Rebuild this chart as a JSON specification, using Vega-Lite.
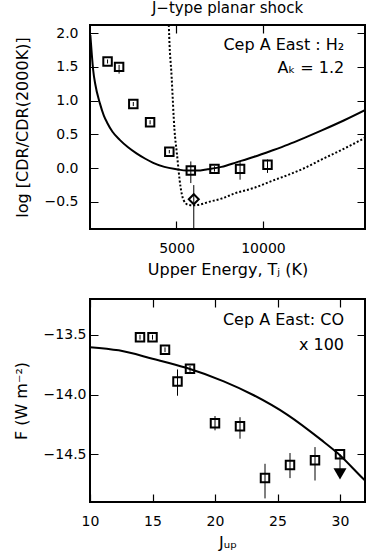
{
  "$schema": "https://vega.github.io/schema/vega-lite/v6.json",
  "padding": {"left": 12, "top": 0, "right": 0, "bottom": 0},
  "spacing": 20,
  "config": {
    "font": "DejaVu Sans",
    "view": {"stroke": "black", "strokeWidth": 2},
    "axis": {"domain": false, "ticks": false, "grid": true, "gridColor": "black", "gridOpacity": 1, "gridWidth": 1.2, "zindex": 1, "labelFont": "DejaVu Sans", "labelFontSize": 14, "labelColor": "black", "titleFont": "DejaVu Sans", "titleFontSize": 16, "titleFontWeight": "normal", "titleColor": "black", "labelFlush": false, "labelOverlap": false, "labelBound": false},
    "title": {"font": "DejaVu Sans", "fontWeight": "normal", "color": "black"}
  },
  "datasets": {
    "h2": [
      {"T": 1015, "v": 1.58, "lo": 1.55, "hi": 1.61},
      {"T": 1682, "v": 1.50, "lo": 1.40, "hi": 1.53},
      {"T": 2504, "v": 0.95, "lo": 0.92, "hi": 0.98},
      {"T": 3474, "v": 0.68, "lo": 0.65, "hi": 0.71},
      {"T": 4586, "v": 0.245, "lo": 0.22, "hi": 0.27},
      {"T": 5829, "v": -0.035, "lo": -0.22, "hi": 0.10},
      {"T": 7197, "v": -0.01, "lo": -0.05, "hi": 0.03},
      {"T": 8677, "v": -0.01, "lo": -0.17, "hi": 0.09},
      {"T": 10263, "v": 0.05, "lo": -0.07, "hi": 0.13}
    ],
    "diam": [{"T": 6000, "v": -0.46, "lo": -0.95, "hi": -0.25}],
    "solid": [
      {"T": 20, "v": 1.97}, {"T": 100, "v": 1.70}, {"T": 185, "v": 1.45}, {"T": 300, "v": 1.25},
      {"T": 572, "v": 0.96}, {"T": 800, "v": 0.78}, {"T": 1000, "v": 0.67}, {"T": 1300, "v": 0.54},
      {"T": 1720, "v": 0.42}, {"T": 2200, "v": 0.31}, {"T": 2688, "v": 0.22}, {"T": 3200, "v": 0.14},
      {"T": 3653, "v": 0.08}, {"T": 4300, "v": 0.02}, {"T": 5000, "v": -0.015}, {"T": 5600, "v": -0.035},
      {"T": 6200, "v": -0.035}, {"T": 6800, "v": -0.015}, {"T": 7600, "v": 0.02}, {"T": 8500, "v": 0.09},
      {"T": 9500, "v": 0.17}, {"T": 10500, "v": 0.26}, {"T": 11450, "v": 0.35}, {"T": 12400, "v": 0.45},
      {"T": 13400, "v": 0.56}, {"T": 14700, "v": 0.71}, {"T": 15900, "v": 0.86}
    ],
    "dotted": [
      {"T": 4540, "v": 2.3}, {"T": 4561, "v": 2.1}, {"T": 4720, "v": 1.35}, {"T": 4884, "v": 0.57},
      {"T": 5023, "v": 0.22}, {"T": 5231, "v": -0.27}, {"T": 5405, "v": -0.47}, {"T": 5659, "v": -0.54},
      {"T": 6000, "v": -0.55}, {"T": 7000, "v": -0.49}, {"T": 7600, "v": -0.45}, {"T": 8400, "v": -0.37},
      {"T": 9500, "v": -0.29}, {"T": 10500, "v": -0.19}, {"T": 11450, "v": -0.10}, {"T": 12300, "v": -0.01},
      {"T": 13400, "v": 0.13}, {"T": 14700, "v": 0.29}, {"T": 15900, "v": 0.45}
    ],
    "lab1": [
      {"T": 14700, "v": 1.83, "t": "Cep A East : H₂"},
      {"T": 14700, "v": 1.48, "t": "Aₖ = 1.2"}
    ],
    "co": [
      {"J": 14, "F": -13.52, "lo": -13.54, "hi": -13.50},
      {"J": 15, "F": -13.52, "lo": -13.54, "hi": -13.50},
      {"J": 16, "F": -13.625, "lo": -13.645, "hi": -13.605},
      {"J": 17, "F": -13.89, "lo": -14.01, "hi": -13.79},
      {"J": 18, "F": -13.785, "lo": -13.81, "hi": -13.76},
      {"J": 20, "F": -14.24, "lo": -14.30, "hi": -14.18},
      {"J": 22, "F": -14.265, "lo": -14.37, "hi": -14.19},
      {"J": 24, "F": -14.70, "lo": -14.87, "hi": -14.58},
      {"J": 26, "F": -14.59, "lo": -14.70, "hi": -14.49},
      {"J": 28, "F": -14.55, "lo": -14.72, "hi": -14.44},
      {"J": 30, "F": -14.50, "lo": -14.63, "hi": -14.50}
    ],
    "colim": [{"J": 30, "F": -14.665}],
    "cofit": [
      {"J": 10, "F": -13.603}, {"J": 12.3, "F": -13.63}, {"J": 15, "F": -13.70}, {"J": 17.7, "F": -13.776},
      {"J": 20.7, "F": -13.89}, {"J": 23.1, "F": -14.006}, {"J": 25.8, "F": -14.17}, {"J": 28.5, "F": -14.38},
      {"J": 29.8, "F": -14.49}, {"J": 31.9, "F": -14.71}, {"J": 32, "F": -14.72}
    ],
    "lab2": [
      {"J": 30.32, "F": -13.379, "t": "Cep A East: CO"},
      {"J": 30.32, "F": -13.582, "t": "x 100"}
    ]
  },
  "vconcat": [
    {
      "width": 275,
      "height": 204,
      "title": {"text": "J−type planar shock", "fontSize": 15, "frame": "group", "anchor": "middle", "offset": 9},
      "layer": [
        {
          "data": {"name": "solid"},
          "mark": {"type": "line", "color": "black", "strokeWidth": 2, "clip": true, "interpolate": "monotone"},
          "encoding": {
            "x": {"field": "T", "type": "quantitative", "scale": {"domain": [0, 15900], "nice": false, "zero": false},
                  "axis": {"orient": "bottom", "values": [5000, 10000], "format": "d", "grid": true, "gridDash": [8, 188, 8, 1000],
                           "labelPadding": 12, "title": "Upper Energy, Tⱼ (K)", "titlePadding": 6}},
            "y": {"field": "v", "type": "quantitative", "scale": {"domain": [-0.9, 2.12], "nice": false, "zero": false},
                  "axis": {"orient": "left", "values": [-0.5, 0, 0.5, 1, 1.5, 2], "format": ".1f", "grid": true, "gridDash": [8, 259, 8, 1000],
                           "labelPadding": 12, "title": "log [CDR/CDR(2000K)]", "titlePadding": 14}}
          }
        },
        {
          "data": {"name": "dotted"},
          "mark": {"type": "line", "color": "black", "strokeWidth": 2, "strokeDash": [2, 2], "clip": true, "interpolate": "monotone"},
          "encoding": {
            "x": {"field": "T", "type": "quantitative"},
            "y": {"field": "v", "type": "quantitative"}
          }
        },
        {
          "data": {"name": "h2"},
          "mark": {"type": "rule", "color": "black", "strokeWidth": 1, "clip": true},
          "encoding": {
            "x": {"field": "T", "type": "quantitative"},
            "y": {"field": "lo", "type": "quantitative"},
            "y2": {"field": "hi"}
          }
        },
        {
          "data": {"name": "diam"},
          "mark": {"type": "rule", "color": "black", "strokeWidth": 1, "clip": true},
          "encoding": {
            "x": {"field": "T", "type": "quantitative"},
            "y": {"field": "lo", "type": "quantitative"},
            "y2": {"field": "hi"}
          }
        },
        {
          "data": {"name": "h2"},
          "mark": {"type": "point", "shape": "square", "filled": false, "stroke": "black", "strokeWidth": 2, "size": 72, "opacity": 1},
          "encoding": {
            "x": {"field": "T", "type": "quantitative"},
            "y": {"field": "v", "type": "quantitative"}
          }
        },
        {
          "data": {"name": "diam"},
          "mark": {"type": "point", "shape": "diamond", "filled": false, "stroke": "black", "strokeWidth": 2, "size": 100, "opacity": 1},
          "encoding": {
            "x": {"field": "T", "type": "quantitative"},
            "y": {"field": "v", "type": "quantitative"}
          }
        },
        {
          "data": {"name": "lab1"},
          "mark": {"type": "text", "align": "right", "baseline": "middle", "fontSize": 16, "font": "DejaVu Sans", "color": "black"},
          "encoding": {
            "x": {"field": "T", "type": "quantitative"},
            "y": {"field": "v", "type": "quantitative"},
            "text": {"field": "t"}
          }
        }
      ]
    },
    {
      "width": 275,
      "height": 203,
      "layer": [
        {
          "data": {"name": "cofit"},
          "mark": {"type": "line", "color": "black", "strokeWidth": 2, "clip": true, "interpolate": "monotone"},
          "encoding": {
            "x": {"field": "J", "type": "quantitative", "scale": {"domain": [10, 32], "nice": false, "zero": false},
                  "axis": {"orient": "bottom", "values": [10, 15, 20, 25, 30], "format": "d", "grid": true, "gridDash": [8, 187, 8, 1000],
                           "labelPadding": 12, "title": "Jᵤₚ", "titlePadding": 6}},
            "y": {"field": "F", "type": "quantitative", "scale": {"domain": [-14.9, -13.2], "nice": false, "zero": false},
                  "axis": {"orient": "left", "values": [-14.5, -14, -13.5], "format": ".1f", "grid": true, "gridDash": [8, 259, 8, 1000],
                           "labelPadding": 4, "title": "F (W m⁻²)", "titlePadding": 14}}
          }
        },
        {
          "data": {"name": "co"},
          "mark": {"type": "rule", "color": "black", "strokeWidth": 1, "clip": true},
          "encoding": {
            "x": {"field": "J", "type": "quantitative"},
            "y": {"field": "lo", "type": "quantitative"},
            "y2": {"field": "hi"}
          }
        },
        {
          "data": {"name": "co"},
          "mark": {"type": "point", "shape": "square", "filled": false, "stroke": "black", "strokeWidth": 2, "size": 72, "opacity": 1},
          "encoding": {
            "x": {"field": "J", "type": "quantitative"},
            "y": {"field": "F", "type": "quantitative"}
          }
        },
        {
          "data": {"name": "colim"},
          "mark": {"type": "point", "shape": "triangle-down", "filled": true, "color": "black", "size": 170, "opacity": 1},
          "encoding": {
            "x": {"field": "J", "type": "quantitative"},
            "y": {"field": "F", "type": "quantitative"}
          }
        },
        {
          "data": {"name": "lab2"},
          "mark": {"type": "text", "align": "right", "baseline": "middle", "fontSize": 16, "font": "DejaVu Sans", "color": "black"},
          "encoding": {
            "x": {"field": "J", "type": "quantitative"},
            "y": {"field": "F", "type": "quantitative"},
            "text": {"field": "t"}
          }
        }
      ]
    }
  ]
}
